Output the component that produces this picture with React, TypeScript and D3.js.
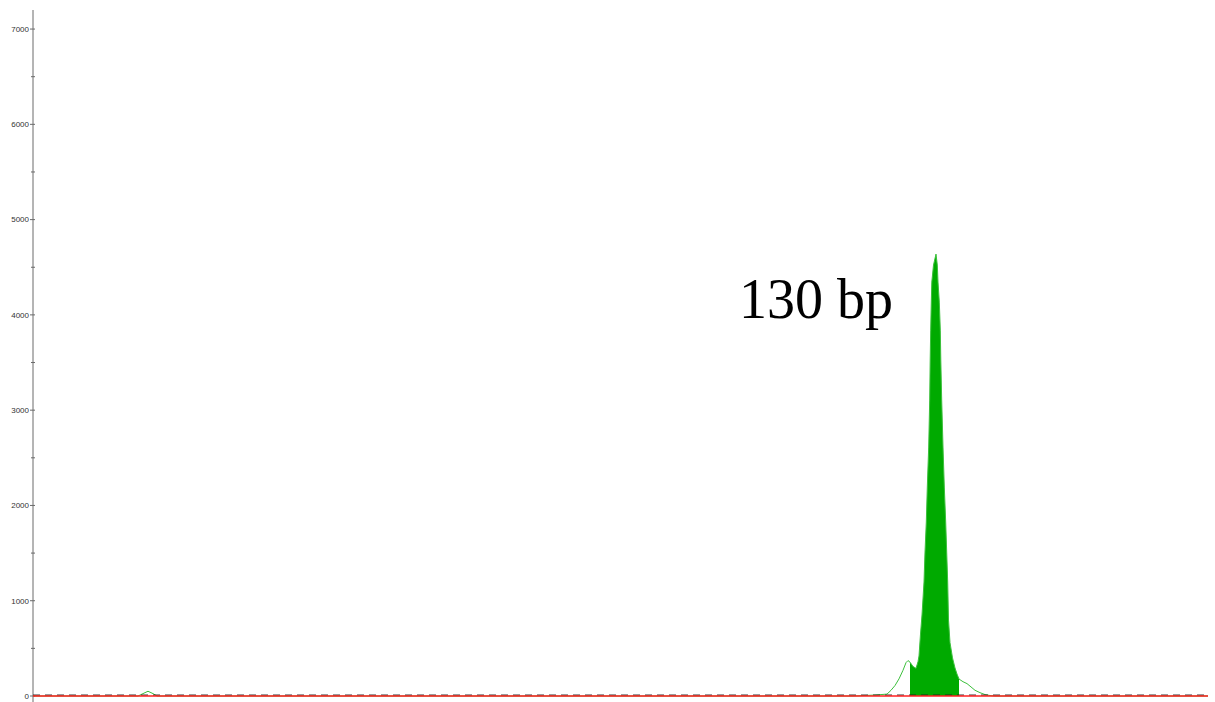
import React from "react";
import * as d3 from "d3";

// ---- data ----
const yTickValues = [0, 1000, 2000, 3000, 4000, 5000, 6000, 7000];
const yMinorTickValues = [500, 1500, 2500, 3500, 4500, 5500, 6500];
const peakLabel = "130 bp";
const peakLabelScan = 706; // scan where label starts
const peakLabelValue = 3970;

// green trace: [scan, RFU]
const greenScans = [
  0, 105, 110, 115, 120, 124, 400, 820, 842, 854, 858, 862, 866, 870, 873, 875, 877, 880, 883, 885, 886,
  887.5, 889, 891, 892, 893.3, 894.3, 895.7, 896.7, 897.2, 897.7, 898.3, 898.8, 900.5, 903, 904.3,
  905, 906.3, 907.3, 907.8, 908.7, 910, 911.3, 912.7, 913.7, 914.7, 915.5, 917, 919.5, 922, 924,
  926, 930, 934, 938, 942, 947, 952, 957, 962, 1175,
];
const greenValues = [
  0, 0, 25, 50, 25, 0, 0, 0, 10, 20, 60, 110, 180, 270, 350, 372, 355, 310, 290, 360, 420,
  650, 850, 1196, 1511, 1826, 2193, 2613, 3106, 3526, 3840, 4134, 4344, 4523, 4638, 4523,
  4344, 4134, 3840, 3526, 3106, 2613, 2193, 1826, 1511, 1196, 797, 560, 400, 294, 230,
  178, 150, 130, 95, 60, 35, 15, 5, 0, 0,
];
const fillStartScan = 877;
const fillEndScan = 926;

// baseline traces
const redScans = [0, 1175];
const redValues = [0, 0];
const blackScans = [0, 1175];
const blackValues = [10, 10];

const W = 1215;
const H = 702;

export default function App() {
  const x = d3.scaleLinear().domain([0, 1175]).range([33, 1208]);
  const y = d3.scaleLinear().domain([0, 7200]).range([696, 10]);

  const green = greenScans.map((s, i) => [s, greenValues[i]] as [number, number]);
  const filled = green.filter(([s]) => s >= fillStartScan && s <= fillEndScan);

  const line = d3
    .line<[number, number]>()
    .x((d) => x(d[0]))
    .y((d) => y(d[1]));
  const area = d3
    .area<[number, number]>()
    .x((d) => x(d[0]))
    .y0(y(0))
    .y1((d) => y(d[1]));

  const red = redScans.map((s, i) => [s, redValues[i]] as [number, number]);
  const black = blackScans.map((s, i) => [s, blackValues[i]] as [number, number]);

  const axisX = x(0);

  return (
    <svg
      width={W}
      height={H}
      style={{ position: "absolute", left: 0, top: 0, background: "#fff" }}
    >
      <rect x={0} y={0} width={W} height={H} fill="#fff" />
      {/* y axis */}
      <line x1={axisX} x2={axisX} y1={y(7200)} y2={702} stroke="#6a6a6a" strokeWidth={1} />
      {yTickValues.map((v) => (
        <g key={v}>
          <line x1={axisX - 3} x2={axisX + 2} y1={y(v)} y2={y(v)} stroke="#6a6a6a" />
          <text
            x={axisX - 4}
            y={y(v)}
            dy="0.35em"
            textAnchor="end"
            fontFamily="Liberation Sans, Arial, sans-serif"
            fontSize={8}
            fill="#333"
          >
            {v}
          </text>
        </g>
      ))}
      {yMinorTickValues.map((v) => (
        <line key={v} x1={axisX - 2} x2={axisX + 2} y1={y(v)} y2={y(v)} stroke="#6a6a6a" />
      ))}

      {/* filled peak */}
      <path d={area(filled) || ""} fill="#00aa00" stroke="none" />
      {/* green trace */}
      <path d={line(green) || ""} fill="none" stroke="#3cc03c" strokeWidth={1} />
      {/* baseline traces */}
      <path d={line(black) || ""} fill="none" stroke="#222" strokeWidth={1} strokeDasharray="7,5" />
      <path d={line(red) || ""} fill="none" stroke="#ff2020" strokeWidth={1.5} />

      <text
        x={x(peakLabelScan)}
        y={y(peakLabelValue)}
        fontFamily="Liberation Serif, Times New Roman, serif"
        fontSize={56}
        fill="#000"
      >
        {peakLabel}
      </text>
    </svg>
  );
}
